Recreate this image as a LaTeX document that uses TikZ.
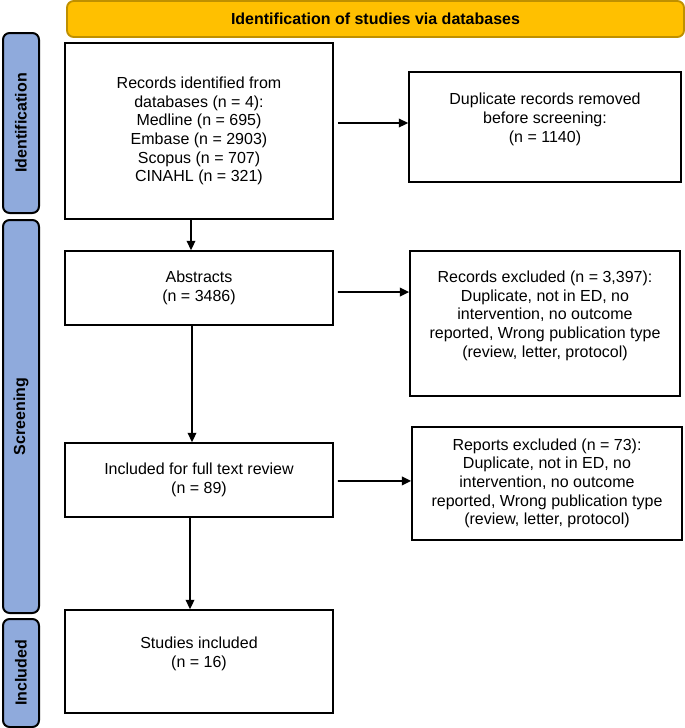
\documentclass[tikz,border=0pt]{standalone}
\usepackage{fontspec}
\setmainfont{Liberation Sans}
\usetikzlibrary{arrows.meta}

\begin{document}
\begin{tikzpicture}[x=0.75pt,y=0.75pt,yscale=-1,xscale=1,
  box/.style={draw, line width=1.3pt, align=center, inner sep=0.75pt, font=\fontsize{12}{14}\selectfont},
  band/.style={draw={rgb, 255:red, 191; green, 144; blue, 0 }, line width=1.4pt, fill={rgb, 255:red, 255; green, 192; blue, 0 }, rounded corners=5pt, font=\bfseries\fontsize{12}{14}\selectfont},
  phase/.style={draw, line width=1.5pt, fill={rgb, 255:red, 143; green, 170; blue, 220 }, rounded corners=5pt, rotate=90, minimum height=27pt, font=\bfseries\fontsize{12}{14}\selectfont},
  arr/.style={line width=1.3pt, -{Triangle[length=7pt,width=6.5pt]}}
]
\useasboundingbox (0,0) rectangle (685,728);

%Shape: Rounded Rect (banner)
\node [band, minimum width=462.75pt, minimum height=27pt] (head) at (375.5,19) {Identification of studies via databases};

%Shape: Rounded Rect (phases)
\node [phase, minimum width=135pt] (idf) at (21,123) {Identification};
\node [phase, minimum width=294.75pt] (scr) at (21,416.5) {Screening};
\node [phase, minimum width=81pt] (inc) at (21,673) {Included};

%Shape: Rectangle
\node [box, minimum width=201pt, minimum height=132pt] (rec) at (199,131) {Records identified from\\databases (n = 4):\\Medline (n = 695)\\Embase (n = 2903)\\Scopus (n = 707)\\CINAHL (n = 321)};
%Shape: Rectangle
\node [box, minimum width=204pt, minimum height=82.5pt] (dup) at (545,127) {Duplicate records removed\\before screening:\\(n = 1140)\\~};
%Shape: Rectangle
\node [box, minimum width=201pt, minimum height=55.5pt] (abs) at (199,288) {Abstracts\\(n = 3486)};
%Shape: Rectangle
\node [box, minimum width=202.5pt, minimum height=108.75pt] (excl) at (545,323.5) {Records excluded (n = 3,397):\\Duplicate, not in ED, no\\intervention, no outcome\\reported, Wrong publication type\\(review, letter, protocol)\\~};
%Shape: Rectangle
\node [box, minimum width=201pt, minimum height=55.5pt] (full) at (199,480) {Included for full text review\\(n = 89)};
%Shape: Rectangle
\node [box, minimum width=202.5pt, minimum height=84.75pt] (rep) at (547,483.5) {Reports excluded (n = 73):\\Duplicate, not in ED, no\\intervention, no outcome\\reported, Wrong publication type\\(review, letter, protocol)};
%Shape: Rectangle
\node [box, minimum width=201pt, minimum height=77.25pt] (stud) at (199,661.5) {Studies included\\(n = 16)\\~};

%Straight Lines
\draw [arr] ([xshift=3pt,yshift=-6pt]rec.east) -- ([yshift=-3pt]dup.west);
\draw [arr] ([xshift=3pt,yshift=3pt]abs.east) -- ([yshift=-23.6pt]excl.west);
\draw [arr] ([xshift=3pt,yshift=0.75pt]full.east) -- ([yshift=-1.9pt]rep.west);
%Straight Lines
\draw [arr] ([xshift=-6pt]rec.south) -- ([xshift=-6pt]abs.north);
\draw [arr] ([xshift=-5.25pt]abs.south) -- ([xshift=-5.25pt]full.north);
\draw [arr] ([xshift=-6.75pt]full.south) -- ([xshift=-6.75pt]stud.north);

\end{tikzpicture}
\end{document}
